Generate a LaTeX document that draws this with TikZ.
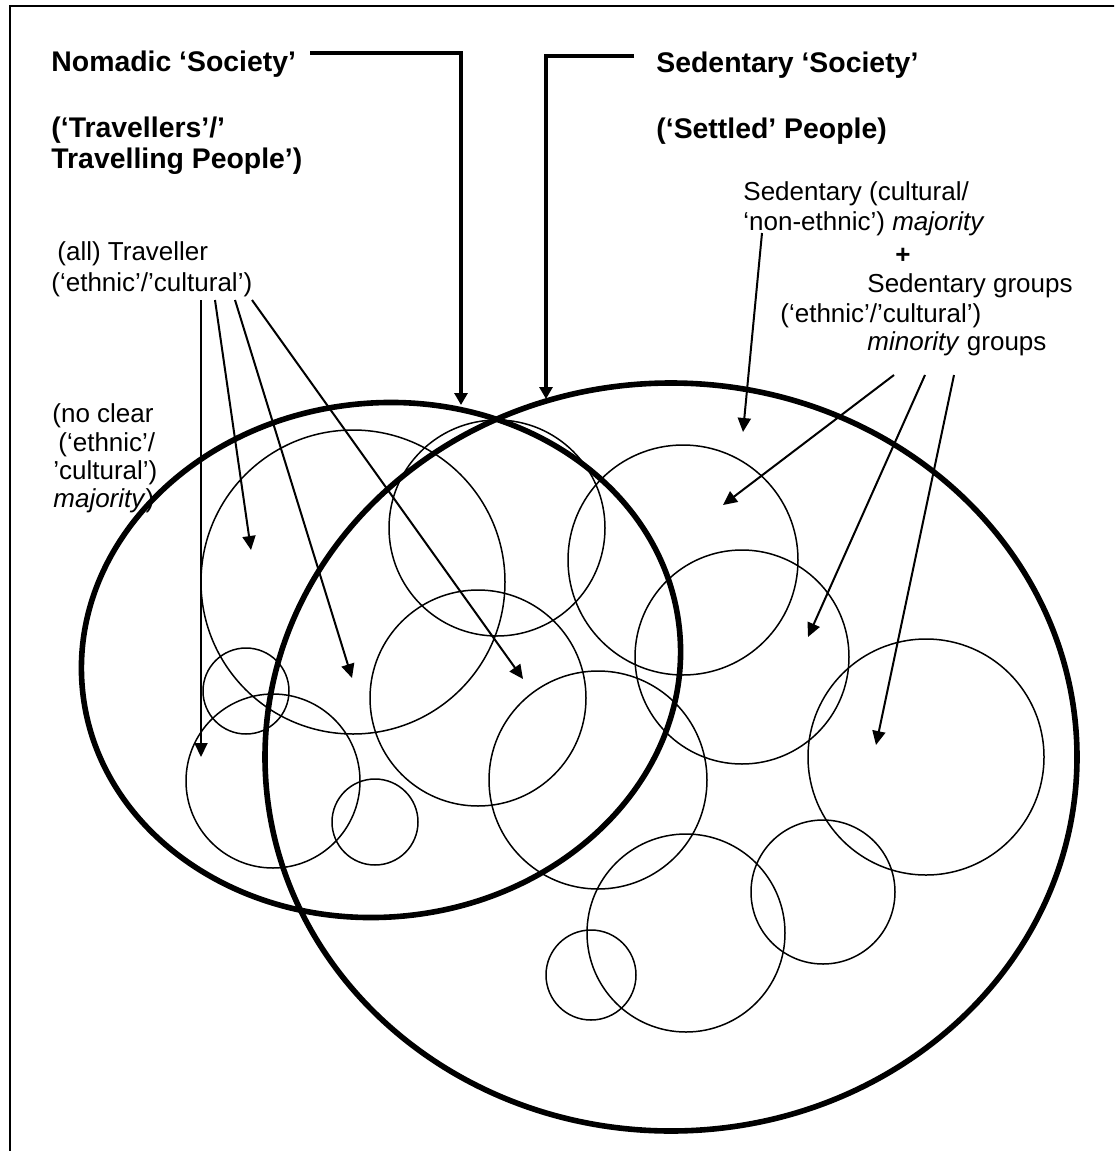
\documentclass[tikz,border=0pt]{standalone}
\usepackage{fontspec}
\setmainfont{Liberation Sans}
\usetikzlibrary{arrows.meta}
\begin{document}
\begin{tikzpicture}[x=0.5pt,y=-0.5pt,
  lbl/.style={anchor=base west,inner sep=0pt,font=\fontsize{13}{15}\selectfont},
  head/.style={anchor=base west,inner sep=0pt,font=\fontsize{14.2}{16}\selectfont\bfseries},
  society/.style={line width=2.8pt},
  group/.style={line width=0.75pt},
  pointer/.style={line width=1pt,-{Triangle[length=7pt,width=6.5pt]}},
  bracket/.style={line width=1.7pt,line join=miter,-{Triangle[length=6pt,width=6.5pt]}},
  frameline/.style={line width=1pt}]
\useasboundingbox (0,0) rectangle (1114,1151);
% page frame (runs off the right and bottom edges)
\begin{scope}
  \clip (0,0) rectangle (1114,1151);
  \draw[frameline] (10,1200) -- (10,6) -- (1200,6);
\end{scope}

% headings
\node[head] (nomT)    at (51,71)  {Nomadic ‘Society’};
\node[head] (travA)   at (51,137) {(‘Travellers’/’};
\node[head] (travB)   at (51,168) {Travelling People’)};
\node[head] (sedT)    at (656,72) {Sedentary ‘Society’};
\node[head] (settled) at (656,138) {(‘Settled’ People)};

% left labels
\node[lbl] (allTrav) at (57,260) {(all) Traveller};
\node[lbl] (ethnicL) at (51,291) {(‘ethnic’/’cultural’)};
\node[lbl] (noClearA) at (52,422) {(no clear};
\node[lbl] (noClearB) at (58,451) {(‘ethnic’/};
\node[lbl] (noClearC) at (53,479) {’cultural’)};
\node[lbl] (noClearD) at (53,507) {\textit{majority})};

% right labels
\node[lbl] (sedMajA) at (743,200) {Sedentary (cultural/};
\node[lbl] (sedMajB) at (743,230) {‘non-ethnic’) \textit{majority}};
\node[anchor=base,inner sep=0pt,font=\fontsize{13}{15}\selectfont\bfseries] (plus) at (903,263) {+};
\node[lbl] (sedGr)   at (867,292) {Sedentary groups};
\node[lbl] (ethnicR) at (780,322) {(‘ethnic’/’cultural’)};
\node[lbl] (minor)   at (867,350) {\textit{minority} groups};

% the two societies
\draw[society,rotate around={6:(381,660)}] (381,660) ellipse [x radius=300, y radius=257];
\draw[society] (671,757) ellipse [x radius=406, y radius=374];

% groups within the societies
\draw[group] (353,582) circle [radius=152];
\draw[group] (246,691) circle [radius=43];
\draw[group] (273,781) circle [radius=87];
\draw[group] (375,822) circle [radius=43];
\draw[group] (497,528) circle [radius=108];
\draw[group] (478,698) circle [radius=108];
\draw[group] (598,780) circle [radius=109];
\draw[group] (683,560) circle [radius=115];
\draw[group] (742,657) circle [radius=107];
\draw[group] (926,757) circle [radius=118];
\draw[group] (823,892) circle [radius=72];
\draw[group] (686,933) circle [radius=99];
\draw[group] (591,975) circle [radius=45];

% heading brackets
\coordinate (nomStart) at (310,53);
\coordinate (nomTip)   at (461,405);
\coordinate (sedStart) at (634,56);
\coordinate (sedTip)   at (546,399);
\draw[bracket] (nomStart) -| (nomTip);
\draw[bracket] (sedStart) -| (sedTip);

% pointers from the Traveller label
\coordinate (tA) at (201,300);
\coordinate (tB) at (215,300);
\coordinate (tC) at (235,300);
\coordinate (tD) at (252,300);
\coordinate (tA1) at (201,757);
\coordinate (tB1) at (251,550);
\coordinate (tC1) at (352,678);
\coordinate (tD1) at (523,679);
\draw[pointer] (tA) -- (tA1);
\draw[pointer] (tB) -- (tB1);
\draw[pointer] (tC) -- (tC1);
\draw[pointer] (tD) -- (tD1);

% pointers from the sedentary labels
\coordinate (sM)  at (762,233);
\coordinate (sM1) at (743,432);
\coordinate (mA)  at (894,375);
\coordinate (mB)  at (925,375);
\coordinate (mC)  at (954,375);
\coordinate (mA1) at (723,505);
\coordinate (mB1) at (808,637);
\coordinate (mC1) at (876,745);
\draw[pointer] (sM) -- (sM1);
\draw[pointer] (mA) -- (mA1);
\draw[pointer] (mB) -- (mB1);
\draw[pointer] (mC) -- (mC1);
\end{tikzpicture}
\end{document}
